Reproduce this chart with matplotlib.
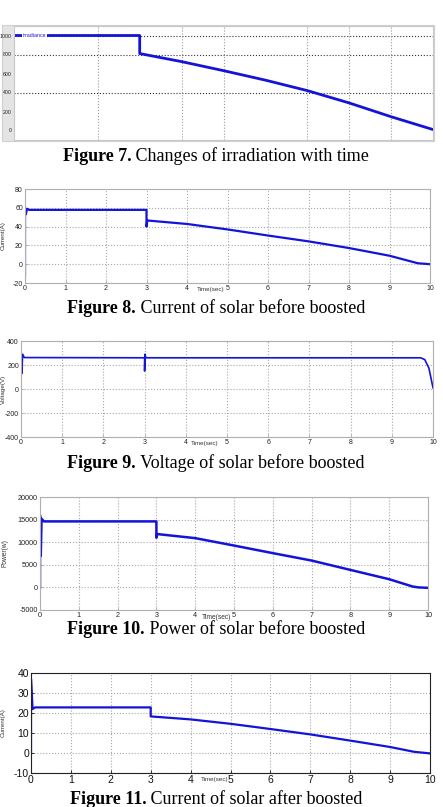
import matplotlib
matplotlib.use('Agg')
import matplotlib.pyplot as plt
from matplotlib.patches import Rectangle

plt.rcParams['axes.unicode_minus'] = False
plt.rcParams['font.family'] = ['Liberation Sans', 'DejaVu Sans']

# ---- data ----
t_irr = [0, 3, 3, 4, 5, 6, 7, 8, 9, 10]
irr = [1000, 1000, 810, 725, 630, 530, 420, 290, 145, 10]

t_ib = [0, 0, 0.02, 0.05, 0.1, 3, 3, 3.02, 4, 5, 6, 7, 8, 9, 9.7, 10]
i_before = [-12, 58, 53, 59, 57.8, 57.8, 40, 46.5, 42.8, 37, 30.5, 24.3, 17.2, 9.0, 1.0, 0]

t_v = [0, 0, 0, 0, 0.02, 0.04, 0.08, 3, 3, 3.01, 3.03, 9.7, 9.8, 9.9, 10]
v_before = [-100, -210, -100, 320, 130, 290, 262, 260, 150, 290, 260, 260, 245, 175, 10]

t_p = [0, 0, 0.02, 0.04, 0.1, 3, 3, 3.02, 4, 5, 6, 7, 8, 9, 9.6, 9.75, 10]
p_before = [0, 16000, 7000, 15200, 14600, 14600, 11000, 11800, 10900, 9260, 7580, 5940, 3870, 1810, 200, 0, -100]

t_ia = [0, 0, 0.04, 0.1, 3, 3, 4, 5, 6, 7, 8, 9, 9.6, 10]
i_after = [0, 37, 22, 22.8, 22.8, 18.3, 16.8, 14.6, 12.0, 9.3, 6.2, 3.0, 0.6, -0.2]

captions = [
    ('Figure 7.', ' Changes of irradiation with time'),
    ('Figure 8.', ' Current of solar before boosted'),
    ('Figure 9.', ' Voltage of solar before boosted'),
    ('Figure 10.', ' Power of solar before boosted'),
    ('Figure 11.', ' Current of solar after boosted'),
]
caption_base = [161, 313, 468, 634, 804]

W, H = 443, 807
fig = plt.figure(figsize=(W / 100, H / 100), dpi=100)
BLUE = '#1414d8'


def box(x0, y0, x1, y1):
    return [x0 / W, 1 - y1 / H, (x1 - x0) / W, (y1 - y0) / H]


def style(ax, yticks, fs, spine='#b0b0b0', tickc='#222222'):
    ax.set_xlim(0, 10)
    ax.set_xticks(range(11))
    ax.set_yticks(yticks)
    ax.grid(True, ls=':', color='#a8a8a8', lw=0.8)
    for s in ax.spines.values():
        s.set_color(spine)
        s.set_linewidth(0.8)
    ax.tick_params(direction='in', length=2, labelsize=fs, colors=tickc, pad=1.5,
                   width=0.6)
    ax.tick_params(axis='both', which='both', color=spine)


# Figure 7 - irradiance (scope style)
fig.patches.append(Rectangle((2 / W, 1 - 141 / H), 432 / W, 116 / H,
                             transform=fig.transFigure, facecolor='#e4e4e4',
                             edgecolor='#d0d0d0', lw=0.8, zorder=-5))
ax7 = fig.add_axes(box(14, 26, 433, 140))
ax7.plot(t_irr, irr, color=BLUE, lw=2)
ax7.set_xlim(0, 10)
ax7.set_ylim(-100, 1100)
ax7.set_xticks([])
ax7.set_yticks([1000, 800, 600, 400, 200, 0])
ax7.tick_params(labelsize=3.8, length=0, pad=1.5, colors='#222222')
for v in [1000, 800, 400]:
    ax7.axhline(v, color='#333333', ls=':', lw=0.8, zorder=0)
for v in [2, 4, 5, 7, 8, 9]:
    ax7.axvline(v, color='#999999', ls=':', lw=0.8, zorder=0)
for s in ax7.spines.values():
    s.set_color('#c8c8c8')
ax7.text(0.2, 1000, 'irradiance', color=BLUE, fontsize=3.8, va='center',
         bbox=dict(facecolor='white', edgecolor='none', pad=0.5))

# Figure 8 - current before boost
ax8 = fig.add_axes(box(25, 189, 430, 283))
ax8.plot(t_ib, i_before, color=BLUE, lw=1.6)
ax8.set_ylim(-20, 80)
style(ax8, [-20, 0, 20, 40, 60, 80], 5)
ax8.text(4.58, -24.5, 'Time(sec)', fontsize=4.5, ha='center', va='top', color='#333333')
ax8.set_ylabel('Current(A)', fontsize=4.5, color='#333333')
ax8.yaxis.set_label_coords(-0.049, 0.5)

# Figure 9 - voltage before boost
ax9 = fig.add_axes(box(21, 341, 433, 437))
ax9.plot(t_v, v_before, color=BLUE, lw=1.2)
ax9.set_ylim(-400, 400)
style(ax9, [-400, -200, 0, 200, 400], 5)
ax9.text(4.45, -430, 'Time(sec)', fontsize=4.5, ha='center', va='top', color='#333333')
ax9.set_ylabel('Voltage(V)', fontsize=4.5, color='#333333')
ax9.yaxis.set_label_coords(-0.036, 0.5)

# Figure 10 - power before boost
ax10 = fig.add_axes(box(40, 497, 428, 610))
ax10.plot(t_p, p_before, color=BLUE, lw=1.8)
ax10.set_ylim(-5000, 20000)
style(ax10, [-5000, 0, 5000, 10000, 15000, 20000], 5.2)
ax10.text(4.55, -5900, 'Time(sec)', fontsize=4.8, ha='center', va='top', color='#333333')
ax10.set_ylabel('Power(w)', fontsize=4.8, color='#333333')
ax10.yaxis.set_label_coords(-0.08, 0.5)

# Figure 11 - current after boost
ax11 = fig.add_axes(box(31, 673, 430, 773))
ax11.plot(t_ia, i_after, color=BLUE, lw=1.6)
ax11.set_ylim(-10, 40)
style(ax11, [-10, 0, 10, 20, 30, 40], 7.5, spine='#222222', tickc='#111111')
ax11.tick_params(labelsize=7.5, colors='#111111')
ax11.text(4.6, -12.2, 'Time(sec)', fontsize=4.5, ha='center', va='top', color='#333333')
ax11.set_ylabel('Current(A)', fontsize=4.5, color='#333333')
ax11.yaxis.set_label_coords(-0.063, 0.5)

# captions: bold label + regular text, centred
r = fig.canvas.get_renderer()
for (bold, rest), yb in zip(captions, caption_base):
    tb = fig.text(0, 1 - yb / H, bold, fontsize=13, fontweight='bold',
                  family='Liberation Serif', va='baseline')
    tr = fig.text(0, 1 - yb / H, rest, fontsize=13, family='Liberation Serif',
                  va='baseline')
    w1 = tb.get_window_extent(r).width
    w2 = tr.get_window_extent(r).width
    x0 = (216 * 2 - (w1 + w2)) / 2
    tb.set_x(x0 / W)
    tr.set_x((x0 + w1) / W)

fig.savefig('out.png', dpi=100)
